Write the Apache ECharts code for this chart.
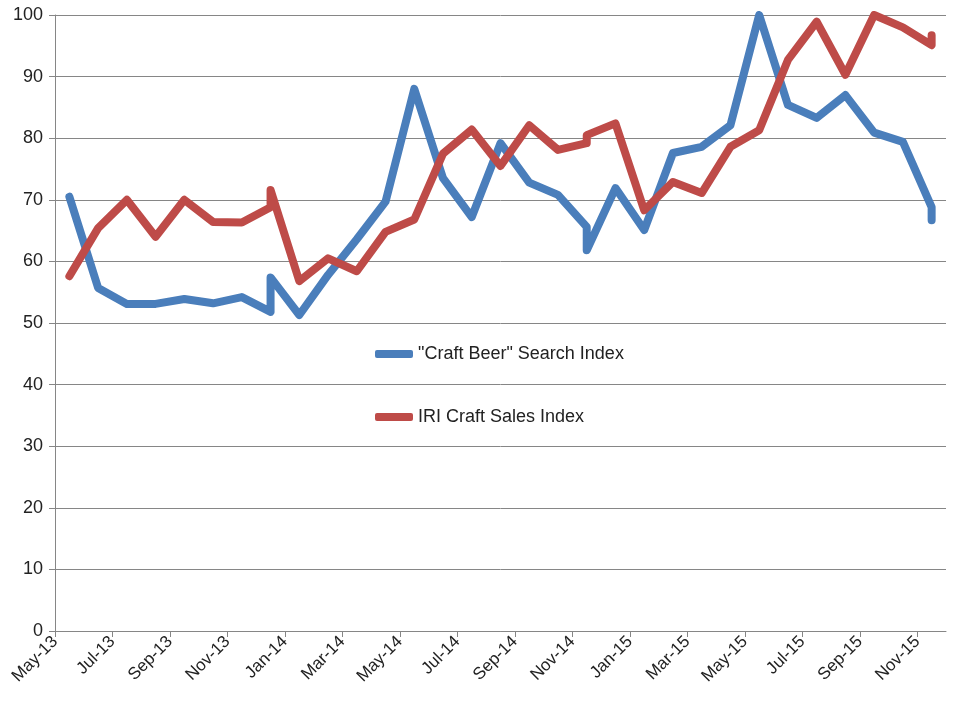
<!DOCTYPE html>
<html>
<head>
<meta charset="utf-8">
<script src="https://cdn.jsdelivr.net/npm/echarts@6/dist/echarts.min.js"></script>
<style>html,body{margin:0;padding:0;background:#fff}#main{width:960px;height:720px}</style>
</head>
<body>
<div id="main"></div>
<script>
var monthLabels = ['May-13','Jun-13','Jul-13','Aug-13','Sep-13','Oct-13','Nov-13','Dec-13','Jan-14','Feb-14','Mar-14','Apr-14',
  'May-14','Jun-14','Jul-14','Aug-14','Sep-14','Oct-14','Nov-14','Dec-14','Jan-15','Feb-15','Mar-15','Apr-15',
  'May-15','Jun-15','Jul-15','Aug-15','Sep-15','Oct-15','Nov-15'];

// month index for each point (some months carry two readings)
var searchMonth = [0,1,2,3,4,5,6,7,7,8,9,10,11,12,13,14,15,16,17,18,18,19,20,21,22,23,24,25,26,27,28,29,30,30];
var searchValues = [70.5,55.7,53.1,53.1,53.9,53.2,54.2,51.8,57.4,51.3,57.8,63.6,69.7,88,73.5,67.2,79.2,72.8,70.8,65.6,61.8,71.9,65.1,77.6,78.6,82.1,100,85.4,83.3,87,80.9,79.4,68.8,66.7];

var salesMonth = [0,1,2,3,4,5,6,7,7,8,9,10,11,12,13,14,15,16,17,18,18,19,20,21,22,23,24,25,26,27,28,29,30,30];
var salesValues = [57.6,65.4,70,64,70,66.4,66.3,68.8,71.6,56.8,60.5,58.4,64.8,66.8,77.5,81.4,75.5,82.1,78.1,79.2,80.5,82.4,68.3,72.9,71.1,78.6,81.3,92.7,98.9,90.3,100,98,95.1,96.7];

function pts(months, vals) {
  return vals.map(function (v, i) { return [months[i] + 0.5, v]; });
}

var chart = echarts.init(document.getElementById('main'));
var font = '"Liberation Sans", Arial, sans-serif';
chart.setOption({
  animation: false,
  grid: { left: 55, right: 14, top: 15, bottom: 89 },
  legend: {
    orient: 'vertical',
    left: 370, top: 340,
    itemGap: 45,
    itemWidth: 38, itemHeight: 8,
    icon: 'roundRect',
    textStyle: { fontFamily: font, fontSize: 18, color: '#222' },
    data: ['"Craft Beer" Search Index', 'IRI Craft Sales Index']
  },
  xAxis: {
    type: 'value', min: 0, max: 31, interval: 2,
    axisLine: { lineStyle: { color: '#868686' } },
    axisTick: { show: true, length: 6, lineStyle: { color: '#868686' } },
    splitLine: { show: false },
    axisLabel: {
      rotate: 45, fontFamily: font, fontSize: 17, color: '#222', showMaxLabel: false, margin: 8,
      formatter: function (v) { return monthLabels[v] || ''; }
    }
  },
  yAxis: {
    type: 'value', min: 0, max: 100, interval: 10,
    axisLine: { show: true, lineStyle: { color: '#868686' } },
    axisTick: { show: true, length: 6, lineStyle: { color: '#868686' } },
    splitLine: { lineStyle: { color: '#868686' } },
    axisLabel: { fontFamily: font, fontSize: 18, color: '#222', margin: 12 }
  },
  series: [
    {
      name: '"Craft Beer" Search Index', type: 'line', showSymbol: false,
      data: pts(searchMonth, searchValues),
      itemStyle: { color: '#4A7EBB' },
      lineStyle: { color: '#4A7EBB', width: 8, cap: 'round', join: 'round' }
    },
    {
      name: 'IRI Craft Sales Index', type: 'line', showSymbol: false,
      data: pts(salesMonth, salesValues),
      itemStyle: { color: '#BE4B48' },
      lineStyle: { color: '#BE4B48', width: 8, cap: 'round', join: 'round' }
    }
  ]
});
</script>
</body>
</html>
